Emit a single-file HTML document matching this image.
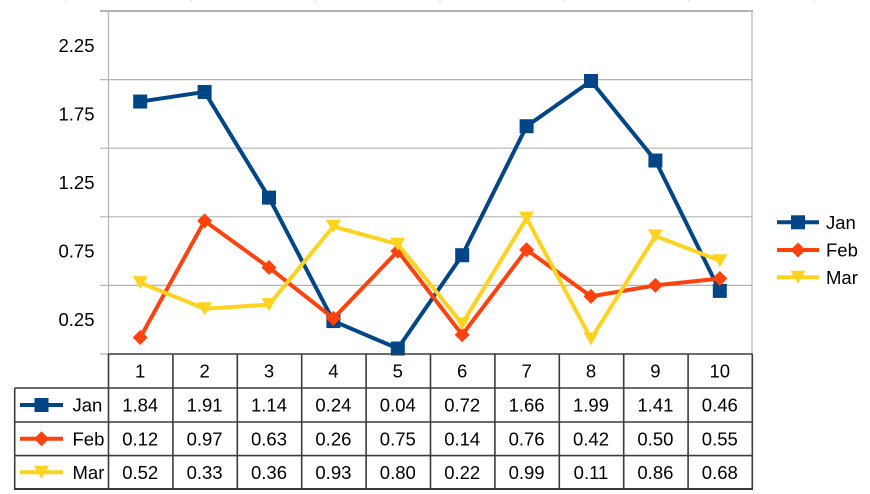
<!DOCTYPE html>
<html>
<head>
<meta charset="utf-8">
<style>
html,body{margin:0;padding:0;background:#fff;}
svg{display:block;}
text{font-family:"Liberation Sans",sans-serif;font-size:18.5px;fill:#000;}
</style>
</head>
<body>
<svg width="870" height="494" viewBox="0 0 870 494" xmlns="http://www.w3.org/2000/svg">
<defs>
<marker id="msq" markerUnits="userSpaceOnUse" markerWidth="16" markerHeight="16" refX="8" refY="8" overflow="visible">
<rect x="1" y="1" width="14" height="14" fill="#004586"/>
</marker>
<marker id="mdi" markerUnits="userSpaceOnUse" markerWidth="16" markerHeight="16" refX="8" refY="8" overflow="visible">
<polygon points="8,0.5 15.5,8 8,15.5 0.5,8" fill="#ff420e"/>
</marker>
<marker id="mtr" markerUnits="userSpaceOnUse" markerWidth="16" markerHeight="16" refX="8" refY="8" overflow="visible">
<polygon points="0.5,1.5 15.5,1.5 8,14.5" fill="#ffd320"/>
</marker>
</defs>

<!-- faint top marks -->
<g stroke="#d0d0d0" stroke-width="1">
<line x1="66" y1="0" x2="66" y2="1.5"/><line x1="191" y1="0" x2="191" y2="1.5"/>
<line x1="315" y1="0" x2="315" y2="1.5"/><line x1="440" y1="0" x2="440" y2="1.5"/>
<line x1="564" y1="0" x2="564" y2="1.5"/><line x1="689" y1="0" x2="689" y2="1.5"/>
<line x1="814" y1="0" x2="814" y2="1.5"/>
</g>

<!-- grid -->
<g stroke="#b3b3b3" stroke-width="1.2">
<line x1="100" y1="11" x2="753" y2="11" stroke-width="2"/>
<line x1="100" y1="79.6" x2="752" y2="79.6"/>
<line x1="100" y1="148.2" x2="752" y2="148.2"/>
<line x1="100" y1="216.8" x2="752" y2="216.8"/>
<line x1="100" y1="285.4" x2="752" y2="285.4"/>
<line x1="100" y1="354" x2="108" y2="354"/>
<line x1="108.5" y1="10" x2="108.5" y2="354"/>
<line x1="752" y1="10" x2="752" y2="354"/>
</g>

<!-- y labels -->
<g text-anchor="end">
<text x="94.5" y="51.8">2.25</text>
<text x="94.5" y="120.4">1.75</text>
<text x="94.5" y="189">1.25</text>
<text x="94.5" y="257.6">0.75</text>
<text x="94.5" y="326.2">0.25</text>
</g>

<!-- series -->
<g fill="none" stroke-width="4" stroke-linejoin="round" stroke-linecap="round">
<polyline stroke="#004586" marker-start="url(#msq)" marker-mid="url(#msq)" marker-end="url(#msq)"
 points="140.2,101.55 204.6,91.95 269,197.59 333.4,321.07 397.8,348.51 462.2,255.22 526.6,126.25 591,80.97 655.4,160.55 719.8,290.89"/>
<polyline stroke="#ff420e" marker-start="url(#mdi)" marker-mid="url(#mdi)" marker-end="url(#mdi)"
 points="140.2,337.54 204.6,220.92 269,267.56 333.4,318.33 397.8,251.1 462.2,334.79 526.6,249.73 591,296.38 655.4,285.4 719.8,278.54"/>
<polyline stroke="#ffd320" marker-start="url(#mtr)" marker-mid="url(#mtr)" marker-end="url(#mtr)"
 points="140.2,282.66 204.6,308.72 269,304.61 333.4,226.4 397.8,244.24 462.2,323.82 526.6,218.17 591,338.91 655.4,236.01 719.8,260.7"/>
</g>

<!-- legend -->
<g stroke-width="4" fill="none">
<polyline points="777,222.3 798,222.3 819,222.3" stroke="#004586" marker-mid="url(#msq)"/>
<polyline points="777,250 798,250 819,250" stroke="#ff420e" marker-mid="url(#mdi)"/>
<polyline points="777,277.3 798,277.3 819,277.3" stroke="#ffd320" marker-mid="url(#mtr)"/>
</g>
<text x="826" y="228.8">Jan</text>
<text x="826" y="256.5">Feb</text>
<text x="826" y="283.8">Mar</text>

<!-- table -->
<g stroke="#3c3c3c" stroke-width="1.6" fill="none">
<line x1="108" y1="354" x2="752.5" y2="354"/>
<line x1="14.7" y1="388" x2="752.5" y2="388"/>
<line x1="14.7" y1="422" x2="752.5" y2="422"/>
<line x1="14.7" y1="455.6" x2="752.5" y2="455.6"/>
<line x1="14" y1="489" x2="753" y2="489" stroke-width="2"/>
<line x1="14.7" y1="388" x2="14.7" y2="489.5"/>
<line x1="108.5" y1="354" x2="108.5" y2="489.5"/>
<line x1="172.9" y1="354" x2="172.9" y2="489.5"/>
<line x1="237.3" y1="354" x2="237.3" y2="489.5"/>
<line x1="301.7" y1="354" x2="301.7" y2="489.5"/>
<line x1="366.1" y1="354" x2="366.1" y2="489.5"/>
<line x1="430.5" y1="354" x2="430.5" y2="489.5"/>
<line x1="494.9" y1="354" x2="494.9" y2="489.5"/>
<line x1="559.3" y1="354" x2="559.3" y2="489.5"/>
<line x1="623.7" y1="354" x2="623.7" y2="489.5"/>
<line x1="688.1" y1="354" x2="688.1" y2="489.5"/>
<line x1="752.3" y1="354" x2="752.3" y2="489.5"/>
</g>

<!-- row header icons -->
<g stroke-width="4" fill="none">
<polyline points="20,405 41.5,405 63,405" stroke="#004586" marker-mid="url(#msq)"/>
<polyline points="20,438.7 41.5,438.7 63,438.7" stroke="#ff420e" marker-mid="url(#mdi)"/>
<polyline points="20,472.3 41.5,472.3 63,472.3" stroke="#ffd320" marker-mid="url(#mtr)"/>
</g>
<text x="72.5" y="411.6">Jan</text>
<text x="72.5" y="445.3">Feb</text>
<text x="72.5" y="478.9">Mar</text>

<g text-anchor="middle">
<text x="140.2" y="377.6">1</text><text x="204.6" y="377.6">2</text><text x="269" y="377.6">3</text><text x="333.4" y="377.6">4</text><text x="397.8" y="377.6">5</text><text x="462.2" y="377.6">6</text><text x="526.6" y="377.6">7</text><text x="591" y="377.6">8</text><text x="655.4" y="377.6">9</text><text x="719.8" y="377.6">10</text>

<text x="140.2" y="411.6">1.84</text><text x="204.6" y="411.6">1.91</text><text x="269" y="411.6">1.14</text><text x="333.4" y="411.6">0.24</text><text x="397.8" y="411.6">0.04</text><text x="462.2" y="411.6">0.72</text><text x="526.6" y="411.6">1.66</text><text x="591" y="411.6">1.99</text><text x="655.4" y="411.6">1.41</text><text x="719.8" y="411.6">0.46</text>

<text x="140.2" y="445.3">0.12</text><text x="204.6" y="445.3">0.97</text><text x="269" y="445.3">0.63</text><text x="333.4" y="445.3">0.26</text><text x="397.8" y="445.3">0.75</text><text x="462.2" y="445.3">0.14</text><text x="526.6" y="445.3">0.76</text><text x="591" y="445.3">0.42</text><text x="655.4" y="445.3">0.50</text><text x="719.8" y="445.3">0.55</text>

<text x="140.2" y="478.9">0.52</text><text x="204.6" y="478.9">0.33</text><text x="269" y="478.9">0.36</text><text x="333.4" y="478.9">0.93</text><text x="397.8" y="478.9">0.80</text><text x="462.2" y="478.9">0.22</text><text x="526.6" y="478.9">0.99</text><text x="591" y="478.9">0.11</text><text x="655.4" y="478.9">0.86</text><text x="719.8" y="478.9">0.68</text>
</g>
</svg>
</body>
</html>
